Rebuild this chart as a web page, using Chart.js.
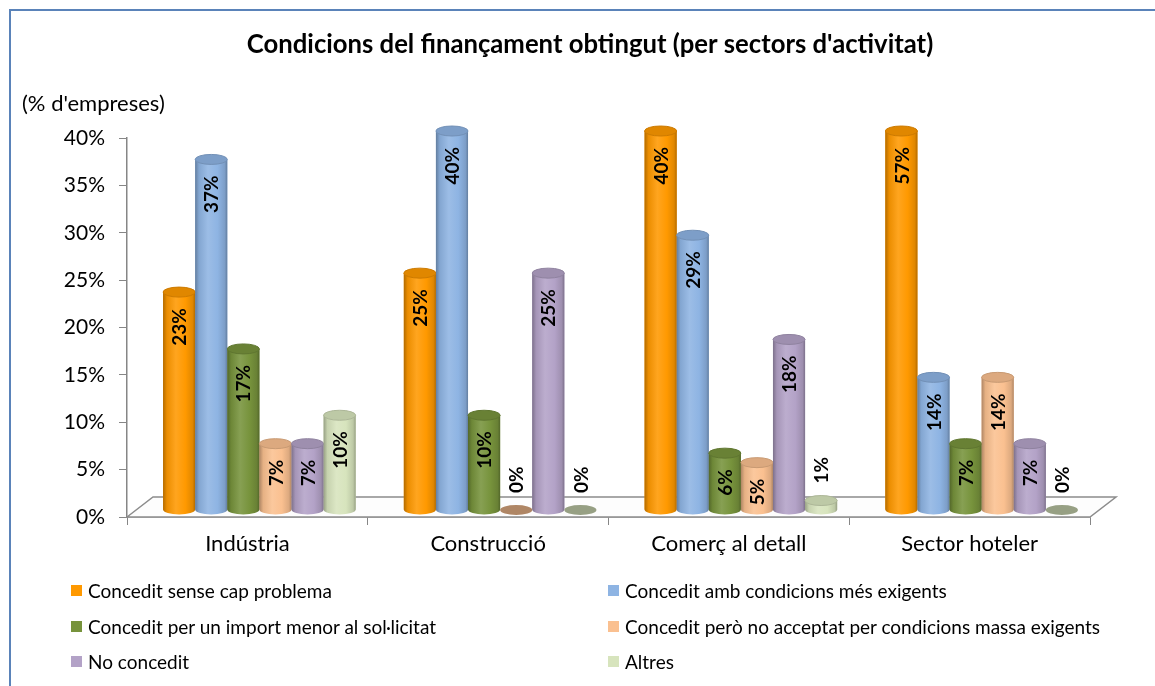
<!DOCTYPE html>
<html>
<head>
<meta charset="utf-8">
<script src="https://cdn.jsdelivr.net/npm/chart.js@4.4.0/dist/chart.umd.min.js"></script>
<style>
    body { margin: 0; background: #fff; overflow: hidden; }
    #wrap { position: relative; width: 1180px; height: 686px; }
    #frame {
        position: absolute; left: 9px; top: 9px; width: 1200px; height: 700px;
        border-left: 2px solid #5A83B9; border-top: 2px solid #5A83B9;
        pointer-events: none;
    }
    #legend {
        position: absolute; left: 71px; top: 573px;
        display: grid; grid-template-columns: 537px auto;
        font-family: Lato, sans-serif; font-size: 19px; color: #000;
    }
    .item { display: flex; align-items: center; height: 35.5px; white-space: nowrap; }
    .box { width: 11px; height: 11px; margin-right: 6px; }
</style>
</head>
<body>
<div id="wrap">
    <canvas id="chart" width="1180" height="686"></canvas>
    <div id="legend"></div>
    <div id="frame"></div>
</div>
<script>
// Chart title and axis unit
const chartTitle = "Condicions del finançament obtingut (per sectors d'activitat)";
const unitLabel = "(% d'empreses)";

// Categories (sectors)
const sectors = ["Indústria", "Construcció", "Comerç al detall", "Sector hoteler"];

// Series names
const seriesNames = [
    "Concedit sense cap problema",
    "Concedit amb condicions més exigents",
    "Concedit per un import menor al sol·licitat",
    "Concedit però no acceptat per condicions massa exigents",
    "No concedit",
    "Altres"
];

// Values (% of companies) per series, one per sector
const senseProblema   = [23, 25, 40, 57];
const mesExigents     = [37, 40, 29, 14];
const importMenor     = [17, 10, 6, 7];
const noAcceptat      = [7, 0, 5, 14];
const noConcedit      = [7, 25, 18, 7];
const altres          = [10, 0, 1, 0];

// Y axis range
const yMax = 40;
const yStep = 5;

const seriesColors = ["#FF9900", "#8EB4E3", "#77933C", "#FAC090", "#B3A2C7", "#D7E4BD"];
const seriesValues = [senseProblema, mesExigents, importMenor, noAcceptat, noConcedit, altres];

// lighten (pct > 0) or darken (pct < 0) a hex colour
function shade(hex, pct) {
    const n = parseInt(hex.slice(1), 16);
    let r = n >> 16, g = (n >> 8) & 255, b = n & 255;
    const t = pct < 0 ? 0 : 255, p = Math.abs(pct);
    r = Math.round(r + (t - r) * p);
    g = Math.round(g + (t - g) * p);
    b = Math.round(b + (t - b) * p);
    return "rgb(" + r + "," + g + "," + b + ")";
}

// floor, cylinders and value labels
const depthX = 12, depthY = -7;
const cylinderPlugin = {
    id: "cylinders",
    beforeDatasetsDraw(chart) {
        const ctx = chart.ctx;
        const a = chart.chartArea;
        // 3D floor
        ctx.save();
        ctx.beginPath();
        ctx.moveTo(a.left, a.bottom);
        ctx.lineTo(a.left + 26, a.bottom - 20);
        ctx.lineTo(a.right + 26, a.bottom - 20);
        ctx.lineTo(a.right, a.bottom);
        ctx.closePath();
        ctx.fillStyle = "#fdfdfd";
        ctx.fill();
        ctx.strokeStyle = "#8C8C8C";
        ctx.lineWidth = 1.5;
        ctx.stroke();
        ctx.restore();
        ctx.save();
        ctx.translate(depthX, depthY);
    },
    afterDatasetsDraw(chart) {
        const ctx = chart.ctx;
        const a = chart.chartArea;
        chart.data.datasets.forEach((ds, i) => {
            const meta = chart.getDatasetMeta(i);
            meta.data.forEach((bar) => {
                const p = bar.getProps(["x", "y", "base", "width"], true);
                const top = Math.max(p.y, a.top);
                const rx = p.width / 2, ry = 5;
                const c = ds.backgroundColor;
                if (p.base - top < 1) {
                    ctx.beginPath();
                    ctx.ellipse(p.x, p.base, rx, ry, 0, 0, Math.PI * 2);
                    ctx.fillStyle = shade(c, -0.3);
                    ctx.fill();
                    return;
                }
                const g = ctx.createLinearGradient(p.x - rx, 0, p.x + rx, 0);
                g.addColorStop(0, shade(c, -0.3));
                g.addColorStop(0.12, shade(c, -0.08));
                g.addColorStop(0.4, shade(c, 0.12));
                g.addColorStop(0.7, c);
                g.addColorStop(0.92, shade(c, -0.12));
                g.addColorStop(1, shade(c, -0.3));
                ctx.beginPath();
                ctx.moveTo(p.x - rx, top);
                ctx.lineTo(p.x - rx, p.base);
                ctx.ellipse(p.x, p.base, rx, ry, 0, Math.PI, 0, true);
                ctx.lineTo(p.x + rx, top);
                ctx.closePath();
                ctx.fillStyle = g;
                ctx.fill();
                // top cap
                ctx.beginPath();
                ctx.ellipse(p.x, top, rx, ry, 0, 0, Math.PI * 2);
                ctx.fillStyle = shade(c, -0.12);
                ctx.fill();
                ctx.strokeStyle = shade(c, -0.2);
                ctx.lineWidth = 1;
                ctx.stroke();
            });
        });
        // value labels
        ctx.font = "bold 19px Lato";
        ctx.fillStyle = "#000";
        ctx.textBaseline = "middle";
        chart.data.datasets.forEach((ds, i) => {
            const meta = chart.getDatasetMeta(i);
            meta.data.forEach((bar, j) => {
                const p = bar.getProps(["x", "y", "base"], true);
                const top = Math.max(p.y, a.top);
                const text = ds.data[j] + "%";
                const w = ctx.measureText(text).width;
                ctx.save();
                if (p.base - top > w + 14) {
                    ctx.translate(p.x + 1, top + 16);
                    ctx.rotate(-Math.PI / 2);
                    ctx.textAlign = "right";
                } else {
                    ctx.translate(p.x + 1, top - 17);
                    ctx.rotate(-Math.PI / 2);
                    ctx.textAlign = "left";
                }
                ctx.fillText(text, 0, 0);
                ctx.restore();
            });
        });
        ctx.restore();
    },
    afterDraw(chart) {
        const ctx = chart.ctx;
        ctx.save();
        ctx.fillStyle = "#000";
        ctx.textBaseline = "middle";
        // title, centred on the chart frame
        ctx.font = "bold 25.7px Lato";
        ctx.textAlign = "center";
        ctx.fillText(chartTitle, 590, 45);
        // unit label above the y axis
        ctx.font = "22px Lato";
        ctx.textAlign = "left";
        ctx.fillText(unitLabel, 22, 104);
        ctx.restore();
    }
};

const ctx = document.getElementById("chart").getContext("2d");
const chart = new Chart(ctx, {
    type: "bar",
    data: {
        labels: sectors,
        datasets: seriesNames.map((name, i) => ({
            label: name,
            data: seriesValues[i],
            backgroundColor: seriesColors[i],
            borderWidth: 0,
            categoryPercentage: 0.8,
            barPercentage: 1.0
        }))
    },
    options: {
        responsive: false,
        animation: false,
        layout: { padding: { left: 0, right: 90, top: 138, bottom: 0 } },
        plugins: {
            legend: { display: false },
            tooltip: { enabled: false },
            title: { display: false }
        },
        scales: {
            x: {
                ticks: { color: "#000", font: { family: "Lato", size: 22 }, padding: 6 },
                grid: { drawOnChartArea: false, tickLength: 8, color: "#868686", offset: true },
                border: { color: "#868686", width: 1.5 },
                afterFit(s) { s.height = 169; }
            },
            y: {
                min: 0,
                max: yMax,
                ticks: {
                    stepSize: yStep,
                    color: "#000",
                    font: { family: "Lato", size: 21 },
                    padding: 14,
                    callback: (v) => v + "%"
                },
                grid: { drawOnChartArea: false, tickLength: 8, color: "#868686" },
                border: { color: "#868686", width: 1.5 },
                afterFit(s) { s.width = 127; }
            }
        }
    },
    plugins: [cylinderPlugin]
});

// HTML legend in two columns, built from the chart's datasets
const legend = document.getElementById("legend");
chart.data.datasets.forEach((ds) => {
    const item = document.createElement("div");
    item.className = "item";
    const box = document.createElement("span");
    box.className = "box";
    box.style.background = ds.backgroundColor;
    const label = document.createElement("span");
    label.textContent = ds.label;
    item.appendChild(box);
    item.appendChild(label);
    legend.appendChild(item);
});
</script>
</body>
</html>
